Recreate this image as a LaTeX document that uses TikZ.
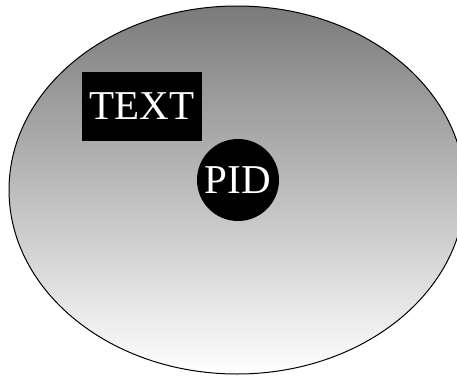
\documentclass[tikz,border=0pt]{standalone}
\usepackage{fontspec}
\setmainfont{Liberation Serif}
\usetikzlibrary{shapes.geometric}
\tikzset{
  disk/.style={draw=black, line width=1pt, ellipse, inner sep=0pt, top color=black!52, bottom color=white!97},
  blackbox/.style={fill=black, text=white, inner sep=0pt, font=\fontsize{41}{48}\selectfont},
  blackdot/.style={circle, fill=black, text=white, inner sep=0pt, minimum size=82pt, font=\fontsize{41}{48}\selectfont}
}
\begin{document}
\begin{tikzpicture}[x=1pt,y=1pt]
\useasboundingbox (0,0) rectangle (457,376);
\clip (0,0) rectangle (457,376);
\node[disk, minimum width=456pt, minimum height=368pt] (plate) at (237,186) {};
\node[blackbox, minimum width=120pt, minimum height=69pt] (label) at (142,270) {TEXT};
\node[blackdot] (pid) at (238,196) {PID};
\end{tikzpicture}
\end{document}
